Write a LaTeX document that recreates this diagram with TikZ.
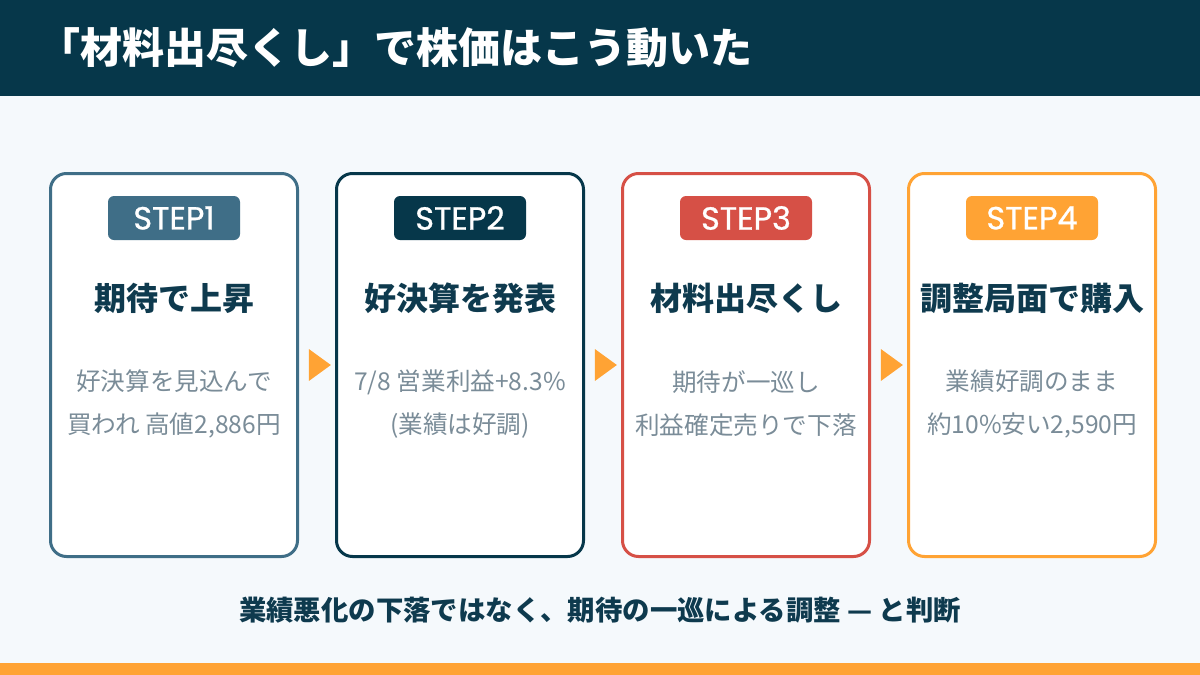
\documentclass[tikz,border=0pt]{standalone}
\usepackage{fontspec}
\setmainfont{Noto Sans CJK JP}
\newfontfamily\stepfont{Poppins}[FakeBold=0.8]
\usetikzlibrary{positioning, shapes.geometric, calc}

\definecolor{hdrblue}{RGB}{6,55,74}
\definecolor{pagebg}{RGB}{245,249,252}
\definecolor{stepone}{RGB}{63,110,135}
\definecolor{steptwo}{RGB}{6,55,74}
\definecolor{stepthree}{RGB}{214,80,70}
\definecolor{stepfour}{RGB}{255,163,52}
\definecolor{headtxt}{RGB}{14,58,78}
\definecolor{desctxt}{RGB}{122,140,152}

\tikzset{
  card/.style={draw=#1, line width=1.5pt, fill=white, rounded corners=8pt,
    minimum width=123.5pt, minimum height=191.5pt, inner sep=0pt},
  badge/.style={fill=#1, rounded corners=3pt, minimum width=66pt,
    minimum height=22pt, inner sep=0pt, text=white, font=\stepfont\fontsize{16}{19}\selectfont},
  heading/.style={text=headtxt, font=\bfseries\fontsize{16}{19}\selectfont},
  desc/.style={text=desctxt, align=center, font=\fontsize{12.3}{21.5}\selectfont},
  nexttri/.style={isosceles triangle, isosceles triangle apex angle=72, fill=stepfour,
    minimum width=15pt, minimum height=11pt, inner sep=0pt, shape border rotate=0}
}

\begin{document}
\begin{tikzpicture}[x=0.5pt, y=-0.5pt]
      % background and bands
      \fill[pagebg] (0,0) rectangle (1200,675);
      \fill[hdrblue] (0,0) rectangle (1200,96);
      \fill[stepfour] (0,663) rectangle (1200,675);
      \node[anchor=west, text=white, font=\bfseries\fontsize{21}{24}\selectfont, inner sep=0pt] (title) at (38,48) {「材料出尽くし」で株価はこう動いた};

      % cards
      \node[card=stepone] (c1) at (174,365) {};
      \node[card=steptwo] (c2) at (460,365) {};
      \node[card=stepthree] (c3) at (746,365) {};
      \node[card=stepfour] (c4) at (1032,365) {};

      \node[badge=stepone] (b1) at (174,218) {STEP1};
      \node[badge=steptwo] (b2) at (460,218) {STEP2};
      \node[badge=stepthree] (b3) at (746,218) {STEP3};
      \node[badge=stepfour] (b4) at (1032,218) {STEP4};

      \node[heading] (h1) at (174,298) {期待で上昇};
      \node[heading] (h2) at (460,298) {好決算を発表};
      \node[heading] (h3) at (746,298) {材料出尽くし};
      \node[heading] (h4) at (1032,298) {調整局面で購入};

      \node[desc] (d1) at (174,404) {好決算を見込んで\\買われ 高値2,886円};
      \node[desc] (d2) at (460,404) {7/8 営業利益+8.3\%\\(業績は好調)};
      \node[desc] (d3) at (746,404) {期待が一巡し\\利益確定売りで下落};
      \node[desc] (d4) at (1032,404) {業績好調のまま\\約10\%安い2,590円};

      % arrows between cards
      \node[nexttri] (t1) at ($(c1.east)!0.5!(c2.west)$) {};
      \node[nexttri] (t2) at ($(c2.east)!0.5!(c3.west)$) {};
      \node[nexttri] (t3) at ($(c3.east)!0.5!(c4.west)$) {};

      \node[text=headtxt, font=\bfseries\fontsize{13.7}{16}\selectfont] (note) at (600,610) {業績悪化の下落ではなく、期待の一巡による調整 — と判断};
\end{tikzpicture}
\end{document}
